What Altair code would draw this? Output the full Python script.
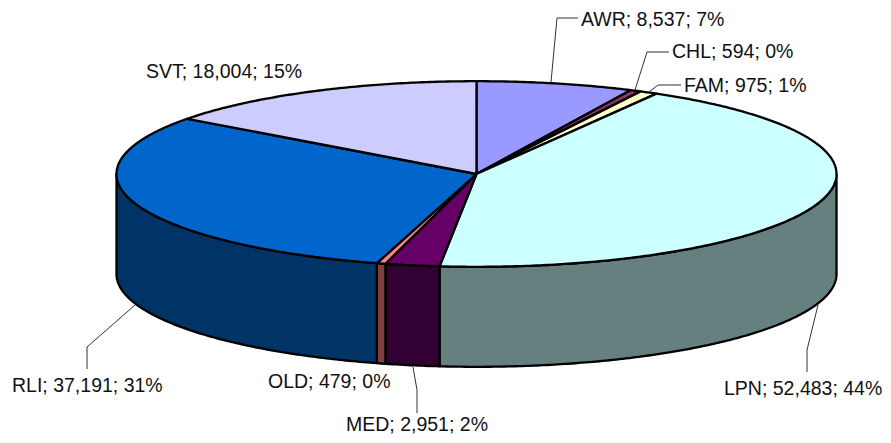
import math
import altair as alt
import pandas as pd

# Slice data, clockwise from 12 o'clock
names = ["AWR", "CHL", "FAM", "LPN", "MED", "OLD", "RLI", "SVT"]
values = [8537, 594, 975, 52483, 2951, 479, 37191, 18004]
percents = [7, 0, 1, 44, 2, 0, 31, 15]
top_colors = ["#9999FF", "#993366", "#FFFFCC", "#CCFFFF", "#660066", "#FF8080", "#0066CC", "#CCCCFF"]
wall_colors = ["#4D4D80", "#4D1A33", "#808066", "#668080", "#330033", "#804040", "#003366", "#666680"]

# Label anchors and leader lines (chart space, px from page corner)
label_x = [581, 672, 684, 724, 346, 268, 12, 146]
label_y = [20, 52, 86, 389, 425, 382, 386, 72]
leader_x = [[551, 557, 578], [635, 647, 669], [649, 658, 681], [818, 807, 807],
            [413, 417, 417], [], [135, 87, 87], []]
leader_y = [[82, 18, 18], [90, 52, 52], [92, 85, 85], [305, 350, 372],
            [367, 390, 413], [], [305, 347, 369], []]

# Ellipse geometry
CX, CY, RX, RY, DEPTH = 476.5, 174.0, 360.0, 92.8, 100.0
W, H = 875, 427
OFF = 8


def pt(a, drop=0.0):
    return (CX + RX * math.sin(a) - OFF, CY - RY * math.cos(a) + drop - OFF)


total = sum(values)
tops, walls = [], []
cum = 0
for s, v in enumerate(values):
    a0 = 2 * math.pi * cum / total
    cum += v
    a1 = 2 * math.pi * cum / total
    n = max(2, int((a1 - a0) / 0.01))
    arc = [a0 + (a1 - a0) * k / n for k in range(n + 1)]
    poly = [(CX - OFF, CY - OFF)] + [pt(a) for a in arc] + [(CX - OFF, CY - OFF)]
    for i, (x, y) in enumerate(poly):
        tops.append({"name": names[s], "s": s, "i": i, "x": x, "y": y})
    lo, hi = max(a0, math.pi / 2), min(a1, 3 * math.pi / 2)
    if hi > lo:
        m = max(2, int((hi - lo) / 0.01))
        wa = [lo + (hi - lo) * k / m for k in range(m + 1)]
        wp = [pt(a) for a in wa] + [pt(a, DEPTH) for a in reversed(wa)]
        wp.append(wp[0])
        for i, (x, y) in enumerate(wp):
            walls.append({"name": names[s], "s": s, "i": i, "x": x, "y": y})

leaders = []
for s, (xs, ys) in enumerate(zip(leader_x, leader_y)):
    for i, (x, y) in enumerate(zip(xs, ys)):
        leaders.append({"name": names[s], "i": i, "x": x - OFF, "y": y - OFF})

labels = [
    {"x": label_x[s] - OFF, "y": label_y[s] - OFF,
     "t": f"{names[s]}; {values[s]:,}; {percents[s]}%"}
    for s in range(len(names))
]

X = alt.X("x:Q", scale=alt.Scale(domain=[0, W], nice=False, zero=False), axis=None)
Y = alt.Y("y:Q", scale=alt.Scale(domain=[0, H], nice=False, zero=False, reverse=True), axis=None)
Ord = alt.Order("i:Q")


def shapes(rows, colors):
    return alt.Chart(pd.DataFrame(rows)).mark_line(
        stroke="#000000", strokeWidth=2.3, strokeJoin="round", clip=False
    ).encode(
        x=X, y=Y, order=Ord,
        fill=alt.Fill("name:N", scale=alt.Scale(domain=names, range=colors), legend=None),
    )


wall_layer = shapes(walls, wall_colors)
top_layer = shapes(tops, top_colors)
leader_layer = alt.Chart(pd.DataFrame(leaders)).mark_line(
    stroke="#333333", strokeWidth=1
).encode(x=X, y=Y, order=Ord, detail="name:N")
label_layer = alt.Chart(pd.DataFrame(labels)).mark_text(
    align="left", baseline="middle", font="Liberation Sans", fontSize=19.5, color="#111111"
).encode(x=X, y=Y, text="t:N")

chart = alt.layer(wall_layer, top_layer, leader_layer, label_layer).resolve_scale(
    fill="independent"
).properties(
    width=W, height=H, padding=0,
    autosize=alt.AutoSizeParams(type="none"),
).configure_view(stroke=None)

chart.save("out.html", embed_options={"renderer": "svg", "actions": False})
